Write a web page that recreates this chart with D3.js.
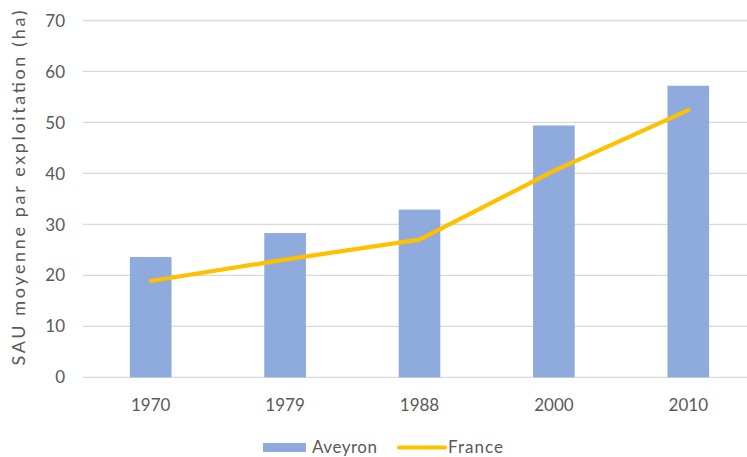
<!DOCTYPE html>
<html><head><meta charset="utf-8">
<script src="https://cdn.jsdelivr.net/npm/d3@7"></script>
<style>body{margin:0;background:#fff}svg{display:block}text{font-family:Lato,"Open Sans",sans-serif;fill:#595959}</style>
</head><body>
<svg id="c" width="747" height="457"></svg>
<script>
const categories = ["1970","1979","1988","2000","2010"];
const aveyron = [23.6, 28.3, 32.9, 49.4, 57.2];
const france = [18.9, 23.1, 27.0, 40.5, 52.4];
const yTicks = [0,10,20,30,40,50,60,70];

const svg = d3.select("#c");
const x = d3.scaleBand().domain(categories).range([83.5, 755.5]).paddingInner(0.69).paddingOuter(0.345);
const y = d3.scaleLinear().domain([0,70]).range([377.3, 20.5]);

svg.append("g").selectAll("line").data(yTicks).join("line")
  .attr("x1", 83).attr("x2", 756)
  .attr("y1", d=>y(d)).attr("y2", d=>y(d))
  .attr("stroke", "#d9d9d9").attr("stroke-width", 1.3);

svg.append("g").selectAll("text").data(yTicks).join("text")
  .attr("x", 65).attr("y", d=>y(d)).attr("dy","0.36em")
  .attr("text-anchor","end").attr("font-size",17).text(d=>d);

svg.append("g").selectAll("rect").data(aveyron).join("rect")
  .attr("x", (d,i)=>x(categories[i])).attr("width", x.bandwidth())
  .attr("y", d=>y(d)).attr("height", d=>y(0)-y(d))
  .attr("fill", "#8FAADC");

svg.append("path").datum(france)
  .attr("d", d3.line().x((d,i)=>x(categories[i])+x.bandwidth()/2).y(d=>y(d)))
  .attr("fill","none").attr("stroke","#FFC000").attr("stroke-width",4.2).attr("stroke-linecap","round").attr("stroke-linejoin","round");

svg.append("g").selectAll("text").data(categories).join("text")
  .attr("x", d=>x(d)+x.bandwidth()/2).attr("y", 411)
  .attr("text-anchor","middle").attr("font-size",17).text(d=>d);

svg.append("text").attr("transform","translate(25,188) rotate(-90)")
  .attr("text-anchor","middle").attr("font-size",18)
  .attr("textLength",355).attr("lengthAdjust","spacing")
  .text("SAU moyenne par exploitation (ha)");

const lg = svg.append("g");
lg.append("rect").attr("x",263).attr("y",443).attr("width",43).attr("height",9).attr("fill","#8FAADC");
lg.append("text").attr("x",312).attr("y",453).attr("font-size",17).attr("textLength",65).text("Aveyron");
lg.append("line").attr("x1",399).attr("x2",445).attr("y1",447.5).attr("y2",447.5).attr("stroke","#FFC000").attr("stroke-width",4.2).attr("stroke-linecap","round");
lg.append("text").attr("x",448).attr("y",453).attr("font-size",17).attr("textLength",55).text("France");
</script>
</body></html>
